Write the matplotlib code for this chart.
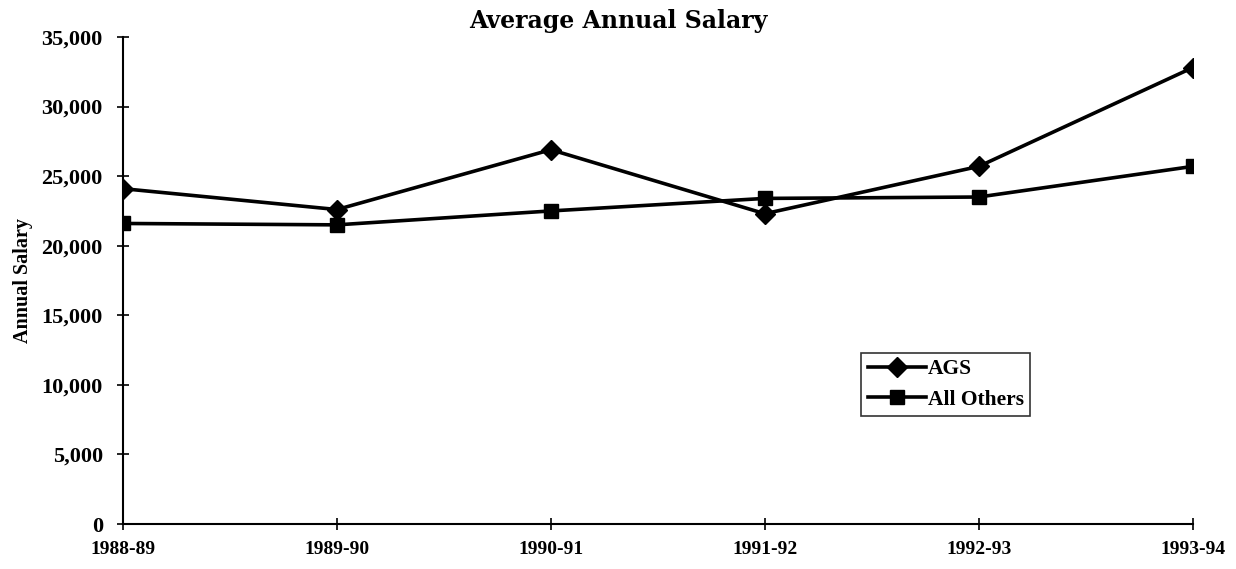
import matplotlib.pyplot as plt

# Data
years = ['1988-89', '1989-90', '1990-91', '1991-92', '1992-93', '1993-94']
ags = [24100, 22600, 26900, 22300, 25700, 32800]
all_others = [21600, 21500, 22500, 23400, 23500, 25700]

plt.rcParams['font.family'] = 'Liberation Serif'
plt.rcParams['font.weight'] = 'bold'

fig = plt.figure(figsize=(12.36, 5.69), dpi=100)
ax = fig.add_axes([0.0995, 0.079, 0.8655, 0.856])

x = range(len(years))
ax.plot(x, ags, color='black', linewidth=2.6, marker='D', markersize=10, label='AGS')
ax.plot(x, all_others, color='black', linewidth=2.6, marker='s', markersize=10, label='All Others')

ax.set_xlim(0, len(years) - 1)
ax.set_ylim(0, 35000)
ax.set_yticks(range(0, 35001, 5000))
ax.set_yticklabels([f'{v:,}' for v in range(0, 35001, 5000)])
ax.set_xticks(list(x))
ax.set_xticklabels(years)
ax.tick_params(axis='both', direction='inout', length=9, width=1.2)
ax.tick_params(axis='x', pad=8, labelsize=14)
ax.tick_params(axis='y', pad=10, labelsize=16)

for side in ['top', 'right']:
    ax.spines[side].set_visible(False)
for side in ['left', 'bottom']:
    ax.spines[side].set_linewidth(1.5)
ax.spines['left'].set_zorder(0)

# title is centred on the page, not on the plot area
fig.suptitle('Average Annual Salary', x=0.5, y=0.985, fontsize=17,
             fontweight='bold', family='DejaVu Serif')
ax.set_ylabel('Annual Salary', fontsize=14.5, fontweight='bold', labelpad=6)

leg = ax.legend(loc='upper left', bbox_to_anchor=(0.69, 0.352), fontsize=15.5,
                frameon=True, fancybox=False, edgecolor='black',
                handlelength=2.7, handletextpad=0.1, borderpad=0.3,
                labelspacing=0.5, borderaxespad=0)
leg.get_frame().set_linewidth(1.2)
for t in leg.get_texts():
    t.set_fontweight('bold')

fig.savefig('out.png', dpi=100)
